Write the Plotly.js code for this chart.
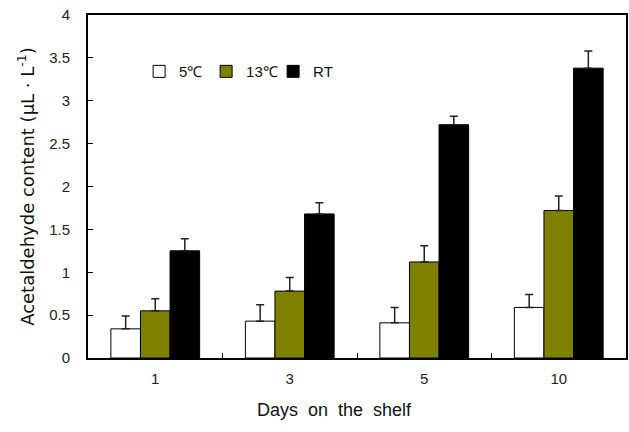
<!DOCTYPE html>
<html>
<head>
<meta charset="utf-8">
<script src="https://cdn.plot.ly/plotly-3.0.1.min.js"></script>
<style>html,body{margin:0;padding:0;background:#fff;}#chart{width:629px;height:432px;}</style>
</head>
<body>
<div id="chart"></div>
<script>
const days = ["1", "3", "5", "10"];
const seriesNames = ["5℃", "13℃", "RT"];
const val5 = [0.34, 0.43, 0.41, 0.59];
const err5 = [0.15, 0.19, 0.18, 0.15];
const val13 = [0.55, 0.78, 1.12, 1.72];
const err13 = [0.14, 0.16, 0.19, 0.17];
const valRT = [1.25, 1.68, 2.72, 3.38];
const errRT = [0.14, 0.13, 0.10, 0.20];

const colors = ["#ffffff", "#808000", "#000000"];
const vals = [val5, val13, valRT];
const errs = [err5, err13, errRT];

const traces = vals.map((v, i) => ({
  type: "bar",
  name: seriesNames[i],
  x: days,
  y: v,
  marker: {color: colors[i], line: {color: "#000", width: 1}},
  error_y: {type: "data", array: errs[i], symmetric: false, arrayminus: errs[i].map(() => 0), color: "#222", thickness: 1.5, width: 4}
}));

const layout = {
  width: 629, height: 432,
  margin: {l: 88, r: 3, t: 15, b: 74},
  paper_bgcolor: "#fff", plot_bgcolor: "#fff",
  font: {family: "Liberation Sans, Arial, sans-serif", color: "#222", size: 15},
  barmode: "group",
  bargap: 0.34,
  bargroupgap: 0,
  showlegend: true,
  legend: {orientation: "h", x: 0.095, y: 0.835, xanchor: "left", yanchor: "middle",
           bgcolor: "rgba(0,0,0,0)", font: {size: 15, color: "#111"}, itemwidth: 30,
           entrywidth: 22, entrywidthmode: "pixels", traceorder: "normal"},
  xaxis: {
    type: "category",
    showline: true, linecolor: "#000", linewidth: 2, mirror: true,
    ticks: "inside", ticklen: 5, tickcolor: "#000", tickson: "boundaries",
    showgrid: false, zeroline: false,
    tickfont: {size: 15, color: "#222"}, ticklabelstandoff: 6
  },
  yaxis: {
    range: [0, 4], dtick: 0.5,
    showline: true, linecolor: "#000", linewidth: 2, mirror: true,
    ticks: "inside", ticklen: 5, tickcolor: "#000",
    showgrid: false, zeroline: false,
    tickfont: {size: 15, color: "#222"}, ticklabelstandoff: 13,
    title: {text: "Acetaldehyde content (μL · L<sup>-1</sup>)", font: {family: "DejaVu Sans, sans-serif", size: 18, color: "#111"}, standoff: 10}
  },
  annotations: [{
    text: "Days&nbsp;&nbsp;on&nbsp;&nbsp;the&nbsp;&nbsp;shelf",
    xref: "paper", yref: "paper", x: 0.459, y: -0.152,
    xanchor: "center", yanchor: "middle", showarrow: false,
    font: {size: 18, color: "#111"}
  }]
};

Plotly.newPlot("chart", traces, layout, {displayModeBar: false, staticPlot: true});
</script>
</body>
</html>
